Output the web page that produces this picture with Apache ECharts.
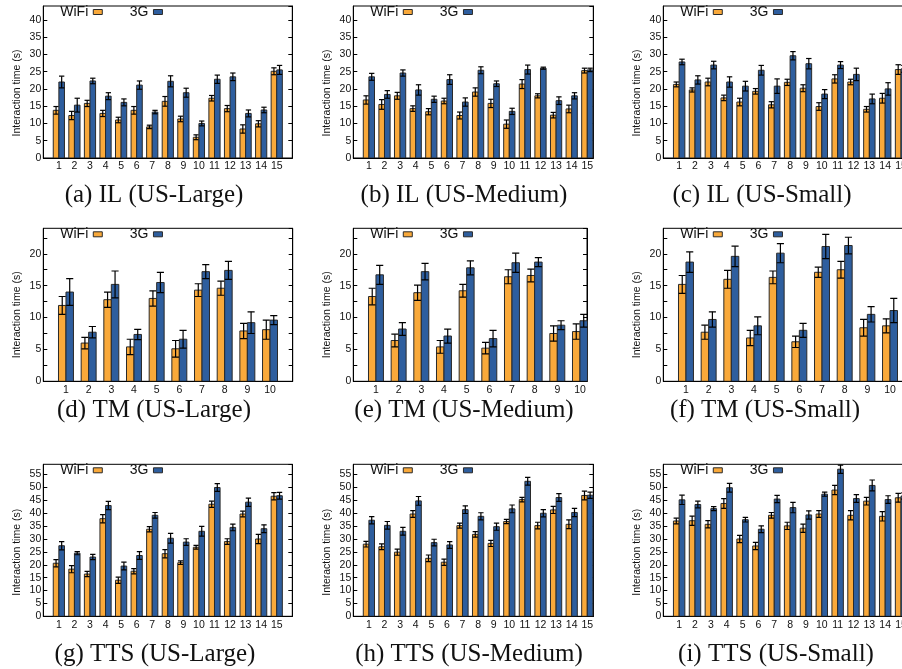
<!DOCTYPE html>
<html>
<head>
<meta charset="utf-8">
<script src="https://cdn.jsdelivr.net/npm/echarts@6/dist/echarts.min.js"></script>
<style>
html,body{margin:0;padding:0;background:#fff;overflow:hidden;}
#chart{width:922px;height:669px;}
</style>
</head>
<body>
<div id="chart"></div>
<script>
// ---------- categories / labels ----------
const cats15 = ['1','2','3','4','5','6','7','8','9','10','11','12','13','14','15'];
const cats10 = ['1','2','3','4','5','6','7','8','9','10'];
const seriesNames = ['WiFi', '3G'];
const yAxisName = 'Interaction time (s)';
const captions = ['(a) IL (US-Large)', '(b) IL (US-Medium)', '(c) IL (US-Small)',
                  '(d) TM (US-Large)', '(e) TM (US-Medium)', '(f) TM (US-Small)',
                  '(g) TTS (US-Large)', '(h) TTS (US-Medium)', '(i) TTS (US-Small)'];

// ---------- data: IL ----------
const ilLargeWifi    = [13.8, 12.3, 15.8, 12.9, 11.0, 13.8, 9.0, 16.4, 11.3, 6.0, 17.3, 14.3, 8.4, 9.9, 25.1];
const ilLargeWifiErr = [1.1, 1.2, 0.9, 0.9, 0.8, 1.1, 0.5, 1.4, 0.8, 0.7, 0.8, 0.9, 1.2, 0.9, 1.0];
const ilLarge3g      = [22.0, 15.3, 22.3, 17.9, 16.1, 21.1, 13.3, 22.2, 18.9, 10.0, 22.8, 23.5, 12.9, 13.9, 25.5];
const ilLarge3gErr   = [1.7, 2.0, 0.8, 1.0, 1.0, 1.2, 0.5, 1.6, 1.3, 0.7, 1.2, 1.1, 1.0, 0.8, 1.3];

const ilMediumWifi    = [16.8, 15.5, 18.0, 14.3, 13.4, 16.5, 12.3, 19.1, 15.8, 9.8, 21.4, 18.0, 12.4, 14.2, 25.3];
const ilMediumWifiErr = [1.2, 1.4, 1.0, 0.8, 0.9, 0.8, 1.0, 1.2, 1.2, 1.2, 1.3, 0.6, 0.8, 1.1, 0.7];
const ilMedium3g      = [23.5, 18.4, 24.6, 19.7, 17.0, 22.7, 16.2, 25.4, 21.5, 13.5, 25.6, 26.0, 16.6, 18.0, 25.5];
const ilMedium3gErr   = [1.0, 1.1, 0.9, 1.5, 0.9, 1.4, 1.2, 1.0, 0.8, 0.9, 1.3, 0.3, 1.1, 0.9, 0.5];

const ilSmallWifi    = [21.3, 19.7, 22.0, 17.4, 16.2, 19.3, 15.4, 21.9, 20.2, 14.9, 22.9, 22.0, 14.1, 17.3, 25.6];
const ilSmallWifiErr = [0.7, 0.6, 1.1, 0.8, 1.1, 0.8, 0.9, 0.9, 1.0, 1.1, 1.2, 0.8, 0.8, 1.4, 1.4];
const ilSmall3g      = [27.8, 22.6, 26.9, 22.0, 20.8, 25.4, 20.8, 29.6, 27.3, 18.5, 26.9, 24.2, 17.1, 20.0, 25.8];
const ilSmall3gErr   = [0.8, 1.2, 1.1, 1.5, 1.4, 1.4, 2.1, 1.2, 1.5, 1.3, 1.0, 1.8, 1.4, 1.8, 1.0];

// ---------- data: TM ----------
const tmLargeWifi    = [11.9, 6.0, 12.8, 5.4, 13.0, 5.1, 14.3, 14.6, 7.9, 8.1];
const tmLargeWifiErr = [1.4, 0.9, 1.2, 1.2, 1.2, 1.3, 1.0, 1.1, 1.2, 1.5];
const tmLarge3g      = [14.0, 7.7, 15.2, 7.35, 15.5, 6.6, 17.2, 17.4, 9.2, 9.6];
const tmLarge3gErr   = [2.1, 0.9, 2.1, 0.8, 1.6, 1.4, 1.1, 1.4, 1.7, 0.7];

const tmMediumWifi    = [13.3, 6.4, 13.9, 5.4, 14.2, 5.2, 16.4, 16.6, 7.5, 7.8];
const tmMediumWifiErr = [1.3, 1.0, 1.2, 1.0, 1.0, 0.9, 1.1, 1.0, 1.2, 1.2];
const tmMedium3g      = [16.7, 8.2, 17.2, 7.1, 17.8, 6.7, 18.6, 18.7, 8.8, 9.5];
const tmMedium3gErr   = [1.5, 1.0, 1.3, 1.1, 1.1, 1.3, 1.5, 0.7, 0.7, 1.0];

const tmSmallWifi    = [15.2, 7.7, 16.0, 6.8, 16.3, 6.2, 17.1, 17.5, 8.4, 8.7];
const tmSmallWifiErr = [1.4, 1.1, 1.4, 1.2, 1.0, 0.9, 0.8, 1.3, 1.3, 1.1];
const tmSmall3g      = [18.7, 9.7, 19.6, 8.7, 20.1, 8.0, 21.15, 21.3, 10.5, 11.1];
const tmSmall3gErr   = [1.6, 1.2, 1.6, 1.4, 1.5, 1.1, 1.9, 1.3, 1.2, 1.9];

// ---------- data: TTS ----------
const ttsLargeWifi    = [20.6, 18.3, 16.4, 37.9, 14.0, 17.5, 33.8, 24.3, 20.8, 26.8, 43.5, 29.0, 39.7, 30.0, 46.6];
const ttsLargeWifiErr = [1.4, 1.4, 1.0, 1.6, 1.2, 1.0, 1.0, 1.6, 0.7, 0.7, 1.2, 1.1, 1.1, 1.8, 1.4];
const ttsLarge3g      = [27.4, 24.5, 23.0, 43.0, 19.5, 23.6, 39.2, 30.3, 28.8, 33.0, 50.0, 34.5, 44.3, 34.0, 46.8];
const ttsLarge3gErr   = [1.6, 0.6, 1.0, 1.6, 1.5, 1.5, 1.1, 1.9, 1.3, 1.9, 1.5, 1.3, 1.6, 1.5, 1.3];

const ttsMediumWifi    = [28.0, 27.0, 24.9, 39.7, 22.5, 21.0, 35.2, 31.8, 28.3, 36.8, 45.3, 35.2, 41.3, 35.7, 46.9];
const ttsMediumWifiErr = [1.1, 1.1, 1.2, 1.3, 1.3, 1.2, 1.0, 1.1, 1.2, 0.8, 0.9, 1.3, 1.4, 1.7, 1.7];
const ttsMedium3g      = [37.3, 35.3, 33.0, 44.8, 28.6, 27.7, 41.4, 38.8, 34.8, 41.7, 52.4, 40.0, 46.1, 40.3, 47.0];
const ttsMedium3gErr   = [1.4, 1.5, 1.5, 1.7, 1.3, 1.3, 1.5, 1.4, 1.4, 1.5, 1.5, 1.4, 1.5, 1.6, 1.2];

const ttsSmallWifi    = [37.0, 37.1, 35.7, 43.8, 30.0, 27.3, 39.2, 35.1, 34.2, 39.7, 49.0, 39.2, 44.7, 38.8, 46.0];
const ttsSmallWifiErr = [1.1, 1.8, 1.4, 1.9, 1.4, 1.4, 1.1, 1.4, 1.6, 1.3, 1.8, 1.8, 1.5, 1.8, 1.7];
const ttsSmall3g      = [45.2, 43.4, 41.8, 49.9, 37.5, 33.8, 45.5, 42.2, 39.35, 47.4, 57.1, 45.7, 50.8, 45.3, 46.7];
const ttsSmall3gErr   = [1.8, 1.3, 0.8, 1.7, 0.9, 1.3, 1.4, 2.0, 1.6, 0.8, 1.6, 1.5, 2.1, 1.5, 1.2];

// ---------- panel assembly (data references) ----------
const panelData = [
  {cats: cats15, wifi: ilLargeWifi,  wifiErr: ilLargeWifiErr,  g3: ilLarge3g,  g3Err: ilLarge3gErr},
  {cats: cats15, wifi: ilMediumWifi, wifiErr: ilMediumWifiErr, g3: ilMedium3g, g3Err: ilMedium3gErr},
  {cats: cats15, wifi: ilSmallWifi,  wifiErr: ilSmallWifiErr,  g3: ilSmall3g,  g3Err: ilSmall3gErr},
  {cats: cats10, wifi: tmLargeWifi,  wifiErr: tmLargeWifiErr,  g3: tmLarge3g,  g3Err: tmLarge3gErr},
  {cats: cats10, wifi: tmMediumWifi, wifiErr: tmMediumWifiErr, g3: tmMedium3g, g3Err: tmMedium3gErr},
  {cats: cats10, wifi: tmSmallWifi,  wifiErr: tmSmallWifiErr,  g3: tmSmall3g,  g3Err: tmSmall3gErr},
  {cats: cats15, wifi: ttsLargeWifi,  wifiErr: ttsLargeWifiErr,  g3: ttsLarge3g,  g3Err: ttsLarge3gErr},
  {cats: cats15, wifi: ttsMediumWifi, wifiErr: ttsMediumWifiErr, g3: ttsMedium3g, g3Err: ttsMedium3gErr},
  {cats: cats15, wifi: ttsSmallWifi,  wifiErr: ttsSmallWifiErr,  g3: ttsSmall3g,  g3Err: ttsSmall3gErr}
];

// ---------- layout (positions / sizes / styles) ----------
const layout = [
  {left: 43.3,  top: 6,     width: 249,   height: 152, xMax: 16,    yMax: 44, yStep: 5,   barFrac: 0.36, capX: 154, capY: 197, nameShift: 22},
  {left: 353.3, top: 6,     width: 240,   height: 152, xMax: 15.385,yMax: 44, yStep: 5,   barFrac: 0.36, capX: 464, capY: 197, nameShift: 22},
  {left: 663.3, top: 6,     width: 253.6, height: 152, xMax: 16,    yMax: 44, yStep: 5,   barFrac: 0.36, capX: 762, capY: 197, nameShift: 22},
  {left: 43.3,  top: 228.3, width: 249.4, height: 153, xMax: 11,    yMax: 24, yStep: 2.5, barFrac: 0.33, capX: 154, capY: 412, nameShift: 20},
  {left: 353.3, top: 228.3, width: 233.7, height: 153, xMax: 10.31, yMax: 24, yStep: 2.5, barFrac: 0.33, capX: 464, capY: 412, nameShift: 20},
  {left: 663.3, top: 228.3, width: 249.4, height: 153, xMax: 11,    yMax: 24, yStep: 2.5, barFrac: 0.33, capX: 765, capY: 412, nameShift: 20},
  {left: 43.3,  top: 464.3, width: 249,   height: 152, xMax: 16,    yMax: 59, yStep: 5,   barFrac: 0.36, capX: 155, capY: 656, nameShift: 24},
  {left: 353.3, top: 464.3, width: 240,   height: 152, xMax: 15.385,yMax: 59, yStep: 5,   barFrac: 0.36, capX: 469, capY: 656, nameShift: 24},
  {left: 663.3, top: 464.3, width: 253.6, height: 152, xMax: 16,    yMax: 59, yStep: 5,   barFrac: 0.36, capX: 776, capY: 656, nameShift: 24}
];

const ORANGE = '#F9A93A';
const BLUE = '#2E5E9E';
const EDGE = '#2a2a2a';
const SANS = '"Liberation Sans", Arial, Helvetica, sans-serif';
const SERIF = '"Liberation Serif", "Times New Roman", serif';

function makeRender(side, color, frac) {
  return function (params, api) {
    const x = api.value(0), v = api.value(1), e = api.value(2);
    const unit = api.size([1, 0])[0];
    const bw = unit * frac;
    const base = api.coord([x, 0]);
    const top = api.coord([x, v]);
    const cx = base[0] + side * bw / 2;
    const hi = api.coord([x, v + e])[1];
    const lo = api.coord([x, v - e])[1];
    const cw = bw * 0.95;
    return {
      type: 'group',
      children: [
        {type: 'rect', shape: {x: cx - bw / 2, y: top[1], width: bw, height: base[1] - top[1]},
         style: {fill: color, stroke: EDGE, lineWidth: 1}},
        {type: 'line', shape: {x1: cx, y1: hi, x2: cx, y2: lo}, style: {stroke: '#000', lineWidth: 1.2}},
        {type: 'line', shape: {x1: cx - cw / 2, y1: hi, x2: cx + cw / 2, y2: hi}, style: {stroke: '#000', lineWidth: 1.2}},
        {type: 'line', shape: {x1: cx - cw / 2, y1: lo, x2: cx + cw / 2, y2: lo}, style: {stroke: '#000', lineWidth: 1.2}}
      ]
    };
  };
}

const grid = [], xAxis = [], yAxis = [], series = [], legend = [], title = [];

layout.forEach((L, p) => {
  const D = panelData[p];
  grid.push({left: L.left, top: L.top, width: L.width, height: L.height, show: true,
             borderColor: '#000', borderWidth: 1, backgroundColor: 'transparent', containLabel: false});
  xAxis.push({
    type: 'value', gridIndex: p, min: 0, max: L.xMax, interval: 1,
    axisLine: {show: true, lineStyle: {color: '#000', width: 1}},
    axisTick: {show: false}, splitLine: {show: false},
    axisLabel: {
      margin: 3, fontSize: 10.5, fontFamily: SANS, color: '#111',
      showMinLabel: false, showMaxLabel: true,
      formatter: (v) => (Number.isInteger(v) && D.cats[v - 1]) ? D.cats[v - 1] : ''
    }
  });
  const yCommon = {
    type: 'value', gridIndex: p, min: 0, max: L.yMax, interval: L.yStep,
    axisLine: {show: true, lineStyle: {color: '#000', width: 1}},
    axisTick: {show: true, inside: true, length: 4, lineStyle: {color: '#000', width: 1}},
    splitLine: {show: false}
  };
  yAxis.push(Object.assign({}, yCommon, {
    position: 'left',
    name: yAxisName, nameLocation: 'middle', nameGap: 21,
    nameTextStyle: {fontSize: 10.5, fontFamily: SANS, color: '#111', padding: [0, L.nameShift, 0, 0]},
    axisLabel: {
      margin: 2, fontSize: 10.5, fontFamily: SANS, color: '#111', showMaxLabel: false,
      formatter: (v) => (v % 5 === 0 && v < L.yMax) ? String(v) : ''
    }
  }));
  yAxis.push(Object.assign({}, yCommon, {position: 'right', axisLabel: {show: false}}));

  const mk = (vals, errs) => vals.map((v, i) => [i + 1, v, errs[i]]);
  series.push({
    type: 'custom', name: seriesNames[0], xAxisIndex: p, yAxisIndex: 2 * p, clip: true,
    itemStyle: {color: ORANGE, borderColor: EDGE, borderWidth: 1},
    renderItem: makeRender(-1, ORANGE, L.barFrac), data: mk(D.wifi, D.wifiErr)
  });
  series.push({
    type: 'custom', name: seriesNames[1], xAxisIndex: p, yAxisIndex: 2 * p, clip: true,
    itemStyle: {color: BLUE, borderColor: EDGE, borderWidth: 1},
    renderItem: makeRender(1, BLUE, L.barFrac), data: mk(D.g3, D.g3Err)
  });
  legend.push({
    left: L.left + 17, top: L.top - 1, orient: 'horizontal', align: 'right', padding: 0,
    itemWidth: 9, itemHeight: 5, itemGap: 27, selectedMode: false,
    textStyle: {fontSize: 14, fontFamily: SANS, color: '#111'},
    data: [
      {name: seriesNames[0], icon: 'rect', itemStyle: {color: ORANGE, borderColor: EDGE, borderWidth: 1}},
      {name: seriesNames[1], icon: 'rect', itemStyle: {color: BLUE, borderColor: EDGE, borderWidth: 1}}
    ]
  });
  title.push({
    text: captions[p], left: L.capX, top: L.capY - 14, textAlign: 'center', padding: 0,
    textStyle: {fontFamily: SERIF, fontSize: 25, fontWeight: 'normal', color: '#111'}
  });
});

const chart = echarts.init(document.getElementById('chart'), null, {renderer: 'canvas'});
chart.setOption({
  animation: false,
  backgroundColor: '#fff',
  title, legend, grid, xAxis, yAxis, series
});
</script>
</body>
</html>
